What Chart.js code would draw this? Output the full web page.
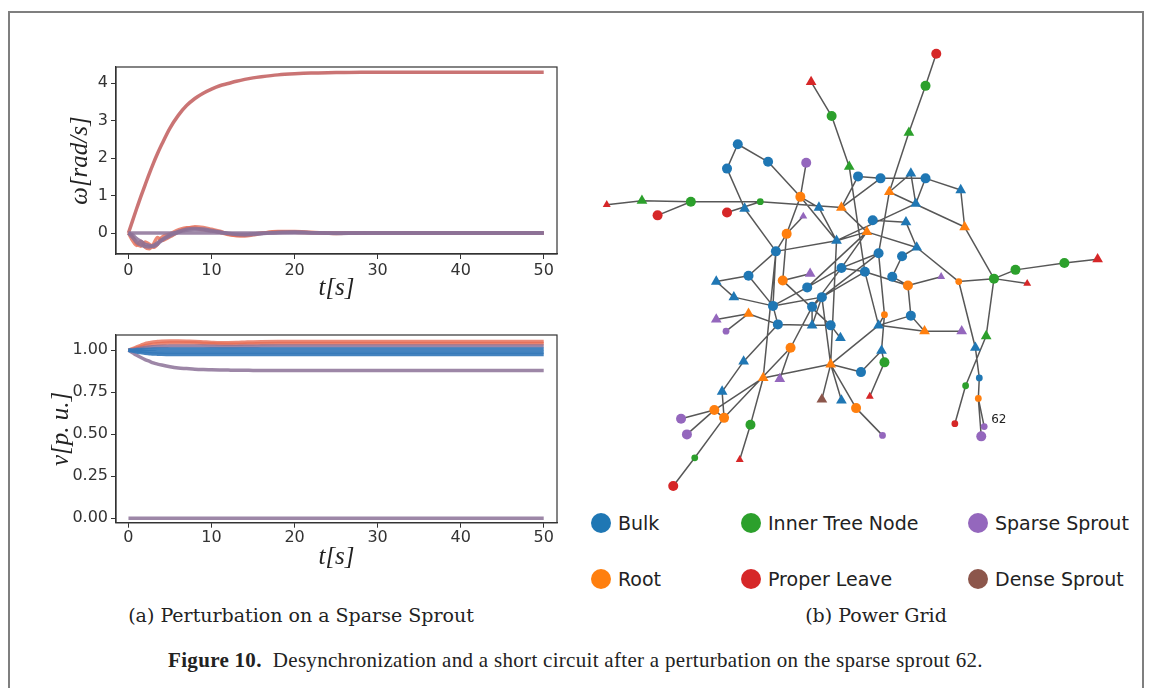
<!DOCTYPE html>
<html>
<head>
<meta charset="utf-8">
<script src="https://cdn.jsdelivr.net/npm/chart.js@4.4.0/dist/chart.umd.min.js"></script>
<style>
  body { margin: 0; background: #fff; }
  #fig { position: relative; width: 1151px; height: 688px; overflow: hidden; background: #fff; }
  #box { position: absolute; left: 8px; top: 11px; width: 1136px; height: 720px; border: 2px solid #7f7f7f; box-sizing: border-box; }
  canvas { position: absolute; }
  .leg { position: absolute; font-family: "DejaVu Sans", sans-serif; font-size: 19px; color: #222; line-height: 20px; white-space: nowrap; }
  .dot { position: absolute; width: 20px; height: 20px; border-radius: 50%; }
  .sub { position: absolute; font-family: "DejaVu Serif", serif; font-size: 19px; color: #222; white-space: nowrap; transform: translateX(-50%); }
  .cap { position: absolute; left: 0; width: 1151px; text-align: center; font-family: "Liberation Serif", serif; font-size: 21px; letter-spacing: 0.3px; color: #222; }
</style>
</head>
<body>
<div id="fig">
  <div id="box"></div>
  <canvas id="omega" width="530" height="260" style="left:40px;top:50px"></canvas>
  <canvas id="volt" width="530" height="260" style="left:40px;top:318px"></canvas>
  <canvas id="grid" width="560" height="470" style="left:580px;top:30px"></canvas>
  <div id="legend"></div>
  <div class="sub" style="left:301px;top:604px">(a) Perturbation on a Sparse Sprout</div>
  <div class="sub" style="left:876px;top:604px">(b) Power Grid</div>
  <div class="cap" style="top:648px"><b>Figure 10.</b>&nbsp; Desynchronization and a short circuit after a perturbation on the sparse sprout 62.</div>
</div>
<script>
/***** Time series *****/
const tSteps = [0, 0.5, 1, 1.5, 2, 2.5, 3, 3.5, 4, 5, 6, 7, 8, 9, 10, 11, 12, 13, 14, 15, 16, 18, 20, 22, 25, 28, 30, 35, 40, 45, 50];
const tTicks = [0, 10, 20, 30, 40, 50];
const omegaTicks = [0, 1, 2, 3, 4];
const voltTicks = [0, 0.25, 0.5, 0.75, 1];

// frequency deviation of the desynchronized node and of the rest of the grid
const omegaRun   = [0, 0.33, 0.66, 0.98, 1.28, 1.58, 1.86, 2.12, 2.36, 2.8, 3.14, 3.4, 3.59, 3.73, 3.84, 3.93, 3.99, 4.05, 4.1, 4.14, 4.17, 4.22, 4.25, 4.27, 4.28, 4.29, 4.29, 4.29, 4.29, 4.29, 4.29];
const omegaSwingA = [0, -0.12, -0.25, -0.32, -0.36, -0.37, -0.33, -0.26, -0.18, -0.05, 0.04, 0.1, 0.12, 0.11, 0.07, 0.03, -0.01, -0.04, -0.05, -0.04, -0.02, 0.02, 0.03, 0.01, -0.01, 0, 0, 0, 0, 0, 0];
const omegaSwingB = [0, -0.2, -0.33, -0.22, -0.38, -0.42, -0.3, -0.12, -0.2, -0.1, 0.03, 0.12, 0.17, 0.15, 0.1, 0.05, -0.03, -0.07, -0.08, -0.05, -0.01, 0.04, 0.04, 0.02, -0.01, 0, 0.01, 0, 0, 0, 0];
const omegaSwingC = [0, -0.1, -0.28, -0.35, -0.24, -0.3, -0.38, -0.3, -0.12, -0.02, 0.08, 0.14, 0.13, 0.09, 0.06, 0.02, -0.04, -0.06, -0.06, -0.03, 0, 0.03, 0.02, 0.01, 0, 0, 0, 0, 0, 0, 0];
const omegaSwingD = [0, -0.05, -0.15, -0.22, -0.3, -0.33, -0.36, -0.3, -0.2, -0.08, 0.02, 0.07, 0.09, 0.08, 0.05, 0.02, -0.01, -0.03, -0.03, -0.02, -0.01, 0.01, 0.02, 0.01, 0, 0, 0, 0, 0, 0, 0];
const omegaRest  = [0, 0, 0, 0, 0, 0, 0, 0, 0, 0, 0, 0, 0, 0, 0, 0, 0, 0, 0, 0, 0, 0, 0, 0, 0, 0, 0, 0, 0, 0, 0];

// voltage magnitudes
const vHighA = [1, 1.01, 1.02, 1.03, 1.04, 1.045, 1.05, 1.052, 1.054, 1.056, 1.055, 1.054, 1.053, 1.05, 1.047, 1.045, 1.045, 1.046, 1.048, 1.05, 1.051, 1.052, 1.052, 1.052, 1.052, 1.052, 1.052, 1.052, 1.052, 1.052, 1.052];
const vHighB = [1, 1.005, 1.012, 1.02, 1.027, 1.032, 1.036, 1.039, 1.041, 1.043, 1.044, 1.044, 1.043, 1.041, 1.039, 1.037, 1.036, 1.036, 1.037, 1.038, 1.039, 1.04, 1.04, 1.04, 1.04, 1.04, 1.04, 1.04, 1.04, 1.04, 1.04];
const vHighC = [1, 1.003, 1.008, 1.012, 1.016, 1.019, 1.021, 1.023, 1.024, 1.025, 1.026, 1.026, 1.026, 1.025, 1.024, 1.023, 1.023, 1.023, 1.024, 1.024, 1.025, 1.025, 1.025, 1.025, 1.025, 1.025, 1.025, 1.025, 1.025, 1.025, 1.025];
const vBulkA = [1, 1.001, 1.003, 1.004, 1.005, 1.006, 1.007, 1.007, 1.008, 1.008, 1.008, 1.008, 1.008, 1.008, 1.008, 1.008, 1.008, 1.008, 1.008, 1.008, 1.008, 1.008, 1.008, 1.008, 1.008, 1.008, 1.008, 1.008, 1.008, 1.008, 1.008];
const vBulkB = [1, 0.998, 0.996, 0.994, 0.993, 0.992, 0.991, 0.99, 0.99, 0.99, 0.99, 0.99, 0.99, 0.99, 0.99, 0.99, 0.99, 0.99, 0.99, 0.99, 0.99, 0.99, 0.99, 0.99, 0.99, 0.99, 0.99, 0.99, 0.99, 0.99, 0.99];
const vBulkC = [1, 0.996, 0.99, 0.986, 0.982, 0.98, 0.978, 0.977, 0.976, 0.975, 0.975, 0.975, 0.975, 0.975, 0.975, 0.975, 0.975, 0.975, 0.975, 0.975, 0.975, 0.975, 0.975, 0.975, 0.975, 0.975, 0.975, 0.975, 0.975, 0.975, 0.975];
const vSag   = [1, 0.985, 0.97, 0.957, 0.945, 0.935, 0.925, 0.918, 0.912, 0.902, 0.895, 0.891, 0.887, 0.885, 0.884, 0.883, 0.882, 0.881, 0.881, 0.88, 0.88, 0.88, 0.88, 0.88, 0.88, 0.88, 0.88, 0.88, 0.88, 0.88, 0.88];
const vShort = [0, 0, 0, 0, 0, 0, 0, 0, 0, 0, 0, 0, 0, 0, 0, 0, 0, 0, 0, 0, 0, 0, 0, 0, 0, 0, 0, 0, 0, 0, 0];

/***** Power grid layout *****/
const catNames = ["Bulk", "Root", "Inner Tree Node", "Proper Leave", "Sparse Sprout", "Dense Sprout"];
//             0    1    2    3    4    5    6    7    8    9
const nodeX = [810, 831, 849, 865, 938, 927, 910, 890, 735, 724,
               766, 805, 858, 799, 601, 637, 687, 653, 724, 742,
               758, 818, 841, 802, 785, 836, 867, 774, 841, 746,
               809, 713, 781, 881, 912, 927, 963, 917, 873, 907,
               967, 918, 879, 903, 893, 943, 997, 1019, 1069, 1103,
               909, 961, 1031, 885, 912, 879, 926, 964, 989, 978,
               882, 885, 861, 982, 968, 870, 981, 856, 957, 987,
               984, 883, 731, 806, 821, 771, 811, 746, 713, 723,
               776, 811, 830, 840, 789, 741, 830, 761, 778, 719,
               821, 841, 711, 721, 677, 748, 683, 691, 737, 669];
const nodeY = [77, 112, 164, 272, 48, 81, 129, 190, 141, 166,
               159, 160, 174, 195, 203, 199, 200, 214, 211, 207,
               200, 206, 206, 215, 233, 240, 231, 251, 268, 276,
               274, 282, 281, 176, 171, 176, 188, 202, 219, 221,
               226, 247, 253, 256, 277, 277, 279, 270, 263, 259,
               286, 282, 284, 316, 317, 327, 333, 333, 338, 350,
               353, 365, 375, 381, 389, 400, 402, 412, 428, 431,
               441, 440, 298, 288, 298, 307, 308, 315, 321, 333,
               326, 327, 327, 340, 350, 364, 367, 381, 382, 395,
               403, 404, 414, 422, 423, 429, 439, 463, 465, 492];
// index into catNames
const nodeCat = [3, 2, 2, 0, 3, 2, 2, 1, 0, 0,
                 0, 4, 0, 1, 3, 2, 2, 3, 3, 0,
                 2, 0, 1, 4, 1, 0, 1, 0, 0, 0,
                 4, 0, 1, 0, 0, 0, 0, 0, 0, 0,
                 1, 0, 0, 0, 0, 4, 2, 2, 2, 3,
                 1, 1, 3, 1, 0, 0, 1, 4, 2, 0,
                 0, 2, 0, 0, 2, 3, 1, 1, 3, 4,
                 4, 4, 0, 0, 0, 0, 0, 1, 4, 4,
                 0, 0, 0, 0, 1, 0, 1, 1, 4, 0,
                 5, 0, 1, 1, 4, 2, 4, 2, 3, 3];
// 1 = node with a connected generator (drawn as triangle)
const nodeGen = [1, 0, 1, 0, 0, 0, 1, 1, 0, 0,
                 0, 0, 0, 0, 1, 1, 0, 0, 0, 1,
                 0, 1, 1, 1, 0, 1, 1, 0, 0, 0,
                 1, 1, 0, 0, 1, 0, 1, 1, 0, 1,
                 1, 1, 0, 0, 0, 1, 0, 0, 0, 1,
                 0, 0, 1, 0, 0, 1, 1, 1, 1, 1,
                 1, 0, 0, 0, 0, 1, 0, 0, 0, 0,
                 0, 0, 1, 0, 0, 0, 0, 1, 1, 0,
                 0, 1, 0, 1, 0, 1, 1, 1, 1, 1,
                 1, 1, 0, 0, 0, 0, 0, 0, 1, 0];
const lineFrom = [0, 1, 2, 4, 5, 6, 14, 15, 16, 16, 18, 20, 49, 48, 47, 46, 46, 46, 46, 58, 64, 51, 59, 63, 66, 66, 67, 86, 65, 61,
                  8, 8, 10, 9, 19, 13, 13, 13, 13, 21, 24, 24, 24, 27, 27, 27, 27, 22, 22, 22, 25, 25,
                  12, 33, 34, 35, 35, 36, 7, 7, 7, 37, 38, 39, 26, 41, 41, 42, 43, 28, 3, 44, 26, 26,
                  31, 31, 29, 72, 32, 32, 82, 75, 73, 75, 74, 74, 74, 74, 74, 75, 77, 77, 77, 80, 81, 80, 85, 76, 76, 76, 84, 84, 86, 86, 86, 86, 86, 89, 92, 92, 92, 93, 97, 87, 95, 87,
                  50, 50, 54, 54, 56, 55, 53, 42, 53, 60, 3];
const lineTo   = [1, 2, 3, 5, 6, 7, 15, 16, 17, 20, 20, 22, 48, 47, 46, 52, 40, 51, 58, 64, 68, 59, 63, 66, 69, 70, 71, 67, 61, 60,
                  9, 10, 13, 19, 27, 11, 21, 24, 25, 25, 23, 27, 32, 29, 25, 75, 87, 12, 33, 26, 26, 86,
                  33, 35, 37, 37, 36, 40, 34, 40, 42, 25, 39, 41, 41, 43, 51, 28, 44, 3, 50, 50, 28, 73,
                  29, 72, 75, 75, 30, 82, 83, 73, 28, 74, 3, 42, 76, 81, 86, 80, 78, 80, 79, 81, 82, 85, 89, 81, 84, 28, 88, 93, 87, 90, 91, 55, 62, 93, 93, 94, 96, 97, 99, 95, 98, 92,
                  45, 54, 56, 55, 57, 56, 55, 53, 60, 62, 55];
const labeledNode = 69;
const labeledText = "62";

/***** Styles *****/
const catColors = ["#1f77b4", "#ff7f0e", "#2ca02c", "#d62728", "#9467bd", "#8c564b"];
const smallNodes = new Set([14, 20, 23, 45, 51, 52, 53, 63, 64, 65, 66, 68, 69, 71, 79, 97, 98]);
const RED = "rgba(230,108,84,0.8)", PURPLE = "rgba(140,114,152,0.85)", BLUE = "rgba(52,120,186,0.92)";
const TICK_FONT = {family: "DejaVu Sans", size: 16};
const TITLE_FONT = {family: "Liberation Serif", style: "italic", size: 25};

// closes the plot area into a box
const boxFrame = {
    id: 'boxFrame',
    afterDatasetsDraw(chart) {
        const a = chart.chartArea, ctx = chart.ctx;
        ctx.save();
        ctx.strokeStyle = "#333";
        ctx.lineWidth = 1.2;
        ctx.strokeRect(a.left, a.top, a.right - a.left, a.bottom - a.top);
        ctx.restore();
    }
};

function timeChart(id, series, yTicks, yMin, yMax, yTitle, yFmt, cfg) {
    return new Chart(document.getElementById(id), {
        type: 'line',
        data: {
            datasets: series.map(s => ({
                data: tSteps.map((t, i) => ({x: t, y: s.values[i]})),
                borderColor: s.color,
                borderWidth: s.width || 3.5,
                pointRadius: 0,
                cubicInterpolationMode: 'monotone',
                fill: false
            }))
        },
        options: {
            responsive: false,
            animation: false,
            layout: {padding: {top: 17, right: 13, left: 0, bottom: 0}},
            plugins: {legend: {display: false}, tooltip: {enabled: false}},
            scales: {
                x: {
                    type: 'linear', min: -1.5, max: 51.6,
                    afterBuildTicks: s => { s.ticks = tTicks.map(v => ({value: v})); },
                    afterFit: s => { s.height = cfg.xAxisH; },
                    grid: {drawOnChartArea: false, tickLength: 5, color: "#333"},
                    border: {color: "#333", width: 1.2},
                    ticks: {font: TICK_FONT, color: "#333", padding: cfg.xTickPad, maxRotation: 0},
                    title: {display: true, text: "t[s]", font: TITLE_FONT, color: "#222", padding: {top: 0, bottom: cfg.xTitlePad}}
                },
                y: {
                    type: 'linear', min: yMin, max: yMax,
                    afterBuildTicks: s => { s.ticks = yTicks.map(v => ({value: v})); },
                    afterFit: s => { s.width = 76; },
                    grid: {drawOnChartArea: false, tickLength: 5, color: "#333"},
                    border: {color: "#333", width: 1.2},
                    ticks: {font: TICK_FONT, color: "#333", padding: 3, callback: yFmt},
                    title: {display: true, text: yTitle, font: TITLE_FONT, color: "#222", padding: {top: cfg.yTitlePad, bottom: 0}}
                }
            }
        },
        plugins: [boxFrame]
    });
}

timeChart('omega', [
    {values: omegaRest, color: PURPLE},
    {values: omegaSwingD, color: PURPLE},
    {values: omegaSwingA, color: PURPLE},
    {values: omegaSwingC, color: RED},
    {values: omegaSwingB, color: RED},
    {values: omegaRun, color: "rgba(198,104,104,0.92)"}
], omegaTicks, -0.56, 4.43, "ω[rad/s]", v => v, {xAxisH: 56, xTickPad: 2, xTitlePad: 7, yTitlePad: 25});

timeChart('volt', [
    {values: vBulkA, color: BLUE},
    {values: vBulkB, color: BLUE},
    {values: vBulkC, color: BLUE},
    {values: vHighC, color: PURPLE},
    {values: vHighB, color: RED},
    {values: vHighA, color: RED},
    {values: vSag, color: PURPLE},
    {values: vShort, color: PURPLE}
], voltTicks, -0.026, 1.091, "v[p. u.]", v => v.toFixed(2), {xAxisH: 55.3, xTickPad: 1, xTitlePad: 6, yTitlePad: 6});

/***** Power grid *****/
const edgePoints = [];
lineFrom.forEach((a, k) => {
    const b = lineTo[k];
    edgePoints.push({x: nodeX[a], y: nodeY[a]}, {x: nodeX[b], y: nodeY[b]}, {x: null, y: null});
});

const nodeSets = catNames.map((name, c) => {
    const ids = nodeCat.map((v, i) => i).filter(i => nodeCat[i] === c);
    return {
        label: name,
        data: ids.map(i => ({x: nodeX[i], y: nodeY[i]})),
        pointStyle: ids.map(i => nodeGen[i] ? 'triangle' : 'circle'),
        pointRadius: ids.map(i => nodeGen[i] ? (smallNodes.has(i) ? 4.6 : 6.2) : (smallNodes.has(i) ? 3.4 : 5)),
        backgroundColor: catColors[c],
        borderColor: catColors[c],
        borderWidth: 0,
        clip: false,
        order: 1
    };
});

const nodeLabel = {
    id: 'nodeLabel',
    afterDatasetsDraw(chart) {
        const ctx = chart.ctx;
        const px = chart.scales.x.getPixelForValue(nodeX[labeledNode]);
        const py = chart.scales.y.getPixelForValue(nodeY[labeledNode]);
        ctx.save();
        ctx.font = "12px 'DejaVu Sans'";
        ctx.fillStyle = "#222";
        ctx.textBaseline = "middle";
        ctx.fillText(labeledText, px + 7, py - 7);
        ctx.restore();
    }
};

new Chart(document.getElementById('grid'), {
    type: 'scatter',
    data: {
        datasets: [{
            data: edgePoints,
            showLine: true,
            spanGaps: false,
            borderColor: "rgba(45,45,45,0.8)",
            borderWidth: 1.5,
            pointRadius: 0,
            clip: false,
            order: 2
        }].concat(nodeSets)
    },
    options: {
        responsive: false,
        animation: false,
        layout: {padding: 0},
        plugins: {legend: {display: false}, tooltip: {enabled: false}},
        scales: {
            x: {type: 'linear', min: 580, max: 1140, display: false},
            y: {type: 'linear', min: 30, max: 500, reverse: true, display: false}
        }
    },
    plugins: [nodeLabel]
});

// legend below the grid, three columns
const legendCols = [601, 751, 978];
const legendRows = [523, 579];
const legendOrder = [0, 2, 4, 1, 3, 5];
const legendBox = document.getElementById('legend');
legendOrder.forEach((c, k) => {
    const cx = legendCols[k % 3], cy = legendRows[Math.floor(k / 3)];
    const dot = document.createElement('div');
    dot.className = 'dot';
    dot.style.left = (cx - 10) + 'px';
    dot.style.top = (cy - 10) + 'px';
    dot.style.background = catColors[c];
    legendBox.appendChild(dot);
    const txt = document.createElement('div');
    txt.className = 'leg';
    txt.style.left = (cx + 17) + 'px';
    txt.style.top = (cy - 10) + 'px';
    txt.textContent = catNames[c];
    legendBox.appendChild(txt);
});
</script>
</body>
</html>
